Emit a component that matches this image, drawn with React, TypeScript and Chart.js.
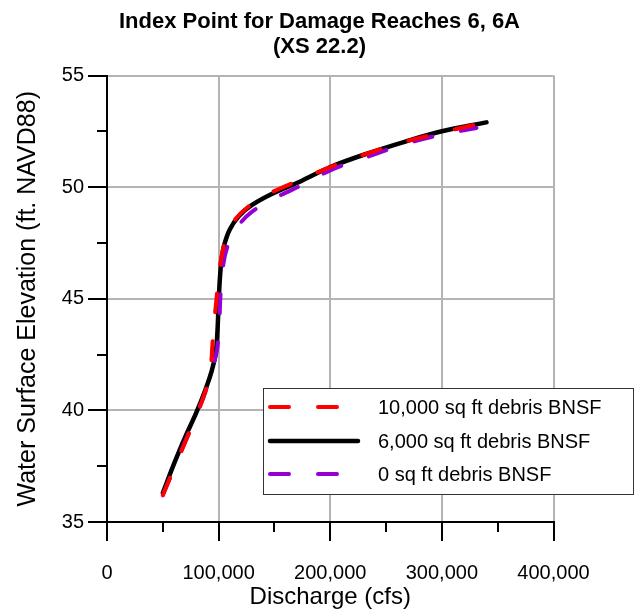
import React, { useEffect, useRef } from 'react';
import { Chart, registerables } from 'chart.js';

Chart.register(...registerables);

// ---------- data ----------
const chartTitle = ['Index Point for Damage Reaches 6, 6A', '(XS 22.2)'];
const xAxisTitle = 'Discharge (cfs)';
const yAxisTitle = 'Water Surface Elevation (ft. NAVD88)';

const seriesLabels = ['10,000 sq ft debris BNSF', '6,000 sq ft debris BNSF', '0 sq ft debris BNSF'];

const debris10kQ = [50000, 60000, 72000, 82000, 89000, 93000, 94500, 96500, 98500, 100500, 103000, 107000, 114000, 126000, 145000, 172000, 200000, 230000, 268000, 300000, 328000];
const debris10kWSE = [36.2, 37.4, 38.8, 40.0, 41.0, 42.0, 43.0, 44.2, 45.2, 46.2, 47.0, 47.8, 48.5, 49.1, 49.7, 50.3, 50.9, 51.45, 52.05, 52.45, 52.78];

const debris6kQ = [50000, 60000, 70000, 80000, 88000, 94000, 97500, 99000, 100000, 101000, 102500, 105000, 110000, 118000, 130000, 148000, 175000, 200000, 230000, 268000, 300000, 340000];
const debris6kWSE = [36.3, 37.6, 38.8, 39.9, 40.9, 41.8, 42.6, 43.6, 44.8, 45.8, 46.7, 47.4, 48.1, 48.7, 49.2, 49.7, 50.3, 50.9, 51.45, 52.05, 52.5, 52.9];

const debris0Q = [50000, 60000, 70000, 80000, 88000, 94000, 98500, 100500, 101500, 103000, 105500, 110000, 118000, 130000, 150000, 175000, 200000, 230000, 268000, 300000, 331000];
const debris0WSE = [36.2, 37.4, 38.6, 39.8, 40.8, 41.8, 42.7, 43.8, 45.0, 46.0, 46.9, 47.6, 48.3, 48.9, 49.5, 50.1, 50.75, 51.3, 51.95, 52.35, 52.65];

const xTickValues = [0, 100000, 200000, 300000, 400000];
const xMinorTickValues = [50000, 150000, 250000, 350000];
const yTickValues = [35, 40, 45, 50, 55];
const yMinorTickValues = [37.5, 42.5, 47.5, 52.5];

const FONT = "'Liberation Sans', Arial, sans-serif";
const GRID = '#b4b4b4';

function toPoints(xs: number[], ys: number[]) {
  return xs.map((x, i) => ({ x, y: ys[i] }));
}

const axisTicksPlugin = {
  id: 'axisTicks',
  afterDraw(chart: any) {
    const ctx = chart.ctx;
    const xs = chart.scales.x;
    const ys = chart.scales.y;
    const area = chart.chartArea;
    ctx.save();
    ctx.strokeStyle = '#000';
    ctx.lineWidth = 2;
    ctx.beginPath();
    xTickValues.forEach((v) => {
      const p = Math.round(xs.getPixelForValue(v));
      ctx.moveTo(p, area.bottom);
      ctx.lineTo(p, area.bottom + 19);
    });
    xMinorTickValues.forEach((v) => {
      const p = Math.round(xs.getPixelForValue(v));
      ctx.moveTo(p, area.bottom);
      ctx.lineTo(p, area.bottom + 10);
    });
    yTickValues.forEach((v) => {
      const p = Math.round(ys.getPixelForValue(v));
      ctx.moveTo(area.left, p);
      ctx.lineTo(area.left - 19, p);
    });
    yMinorTickValues.forEach((v) => {
      const p = Math.round(ys.getPixelForValue(v));
      ctx.moveTo(area.left, p);
      ctx.lineTo(area.left - 10, p);
    });
    ctx.stroke();
    ctx.restore();
  },
};

const boxLegendPlugin = {
  id: 'boxLegend',
  afterDraw(chart: any) {
    const ctx = chart.ctx;
    const left = 263.5;
    const top = 388.5;
    const width = 370;
    const height = 106;
    ctx.save();
    ctx.fillStyle = '#fff';
    ctx.fillRect(left, top, width, height);
    ctx.strokeStyle = '#333';
    ctx.lineWidth = 1;
    ctx.strokeRect(left, top, width, height);
    const rowYs = [407, 441, 474];
    ctx.font = `20px ${FONT}`;
    ctx.textBaseline = 'middle';
    ctx.textAlign = 'left';
    chart.data.datasets.forEach((ds: any, i: number) => {
      const y = rowYs[i];
      ctx.beginPath();
      ctx.strokeStyle = ds.borderColor;
      ctx.lineWidth = ds.borderWidth;
      ctx.lineCap = 'round';
      ctx.setLineDash(ds.borderDash || []);
      ctx.moveTo(270, y);
      ctx.lineTo(358, y);
      ctx.stroke();
      ctx.setLineDash([]);
      ctx.fillStyle = '#000';
      ctx.fillText(ds.label, 378, y + 1);
    });
    ctx.restore();
  },
};

export default function App() {
  const canvasRef = useRef<HTMLCanvasElement | null>(null);

  useEffect(() => {
    if (!canvasRef.current) return;
    const chart = new Chart(canvasRef.current, {
      type: 'scatter',
      data: {
        datasets: [
          {
            label: seriesLabels[0],
            data: toPoints(debris10kQ, debris10kWSE),
            showLine: true,
            borderColor: '#ff0000',
            borderWidth: 4,
            borderDash: [19, 29],
            borderCapStyle: 'round',
            pointRadius: 0,
            tension: 0.35,
            order: 0,
          },
          {
            label: seriesLabels[1],
            data: toPoints(debris6kQ, debris6kWSE),
            showLine: true,
            borderColor: '#000000',
            borderWidth: 4.5,
            borderCapStyle: 'round',
            pointRadius: 0,
            tension: 0.35,
            order: 2,
          },
          {
            label: seriesLabels[2],
            data: toPoints(debris0Q, debris0WSE),
            showLine: true,
            borderColor: '#9400d3',
            borderWidth: 4,
            borderDash: [19, 29],
            borderCapStyle: 'round',
            pointRadius: 0,
            tension: 0.35,
            order: 1,
          },
        ],
      },
      options: {
        responsive: false,
        animation: false,
        layout: { padding: { left: 0, right: 0, top: 0, bottom: 0 } },
        plugins: {
          legend: { display: false },
          tooltip: { enabled: false },
          title: {
            display: true,
            text: chartTitle,
            color: '#000',
            font: { family: FONT, size: 22, weight: 'bold', lineHeight: '25px' },
            padding: { top: 9, bottom: 16.5 },
          },
        },
        scales: {
          x: {
            type: 'linear',
            min: 0,
            max: 400000,
            afterBuildTicks: (scale: any) => {
              scale.ticks = xTickValues.map((v) => ({ value: v }));
            },
            afterFit: (scale: any) => {
              scale.height = 93;
            },
            ticks: {
              color: '#000',
              font: { family: FONT, size: 20 },
              padding: 39,
              maxRotation: 0,
              callback: (v: any) => Number(v).toLocaleString('en-US'),
            },
            grid: {
              color: (c: any) => (c.tick && c.tick.value === 0 ? 'rgba(0,0,0,0)' : GRID),
              lineWidth: 2,
              drawTicks: false,
            },
            border: { display: true, color: '#000', width: 2 },
            title: {
              display: true,
              text: xAxisTitle,
              color: '#000',
              font: { family: FONT, size: 24 },
              padding: { top: 0, bottom: 3 },
            },
          },
          y: {
            type: 'linear',
            min: 35,
            max: 55,
            afterBuildTicks: (scale: any) => {
              scale.ticks = yTickValues.map((v) => ({ value: v }));
            },
            afterFit: (scale: any) => {
              scale.width = 107;
            },
            ticks: {
              color: '#000',
              font: { family: FONT, size: 20 },
              padding: 23,
            },
            grid: {
              color: (c: any) => (c.tick && c.tick.value === 35 ? 'rgba(0,0,0,0)' : GRID),
              lineWidth: 2,
              drawTicks: false,
            },
            border: { display: true, color: '#000', width: 2 },
            title: {
              display: true,
              text: yAxisTitle,
              color: '#000',
              font: { family: FONT, size: 25 },
              padding: { top: 13, bottom: 0 },
            },
          },
          rightSpacer: {
            type: 'linear',
            position: 'right',
            display: true,
            min: 0,
            max: 1,
            afterFit: (scale: any) => {
              scale.width = 85.5;
            },
            ticks: { display: false },
            grid: { display: false, drawTicks: false },
            border: { display: false },
            title: { display: false },
          },
        },
      } as any,
      plugins: [axisTicksPlugin, boxLegendPlugin],
    });
    return () => chart.destroy();
  }, []);

  return (
    <div style={{ position: 'fixed', left: 0, top: 0, width: 639, height: 615, background: '#fff' }}>
      <canvas ref={canvasRef} width={639} height={615} style={{ display: 'block' }} />
    </div>
  );
}
